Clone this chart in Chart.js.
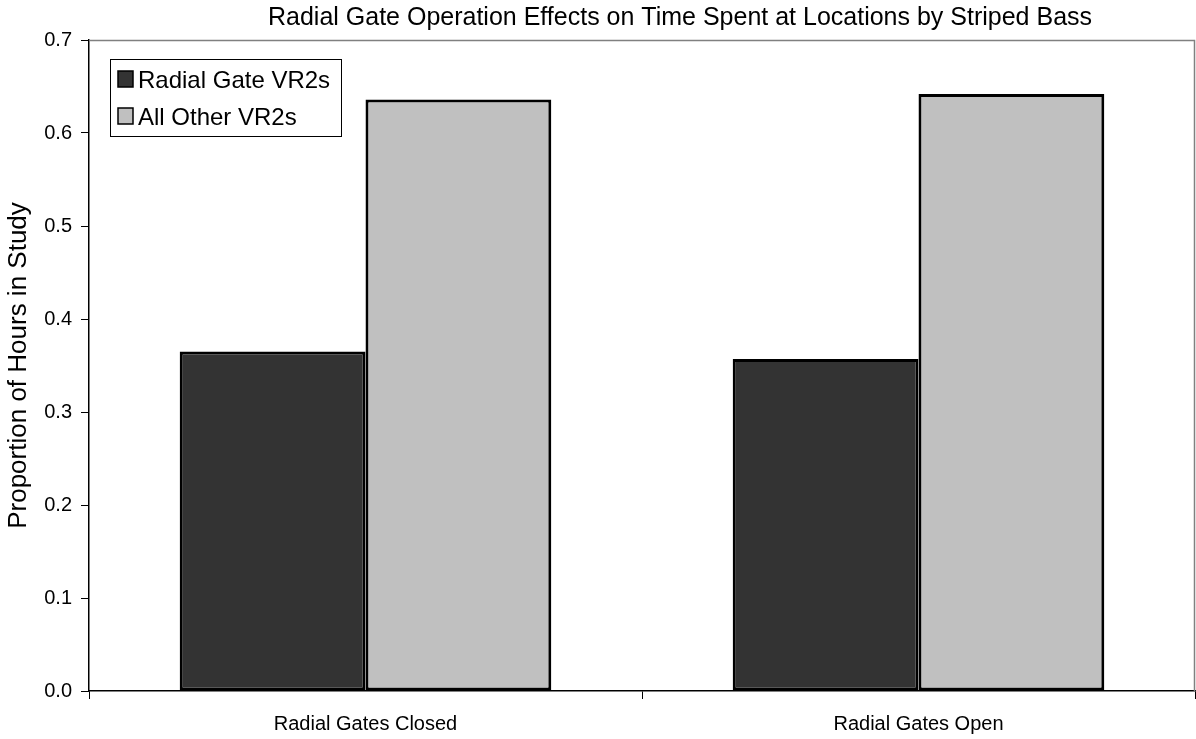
<!DOCTYPE html>
<html>
<head>
<meta charset="utf-8">
<script src="https://cdn.jsdelivr.net/npm/chart.js@4/dist/chart.umd.min.js"></script>
<style>
  html, body { margin: 0; padding: 0; background: #ffffff; }
  #wrap { width: 1196px; height: 739px; }
</style>
</head>
<body>
<div id="wrap"><canvas id="c" width="1196" height="739"></canvas></div>
<script>
const chartTitle = 'Radial Gate Operation Effects on Time Spent at Locations by Striped Bass';
const yAxisTitle = 'Proportion of Hours in Study';
const categories = ['Radial Gates Closed', 'Radial Gates Open'];
const seriesNames = ['Radial Gate VR2s', 'All Other VR2s'];
const radialGateVR2s = [0.365, 0.357];
const allOtherVR2s = [0.636, 0.642];
const yMin = 0.0;
const yMax = 0.7;
const yStep = 0.1;

const FONT = "'Liberation Sans', Arial, sans-serif";

const plotFramePlugin = {
  id: 'plotFrame',
  beforeDatasetsDraw(chart) {
    const a = chart.chartArea, ctx = chart.ctx;
    ctx.save();
    ctx.strokeStyle = '#808080';
    ctx.lineWidth = 1.5;
    ctx.beginPath();
    ctx.moveTo(a.left, a.top + 0.5);
    ctx.lineTo(a.right - 0.5, a.top + 0.5);
    ctx.lineTo(a.right - 0.5, a.bottom);
    ctx.stroke();
    ctx.restore();
  }
};

const overlayPlugin = {
  id: 'overlay',
  afterDraw(chart) {
    const ctx = chart.ctx;
    ctx.save();
    // Title
    ctx.fillStyle = '#000';
    ctx.font = '25px ' + FONT;
    ctx.textAlign = 'center';
    ctx.textBaseline = 'alphabetic';
    ctx.fillText(chartTitle, 680, 25);
    // Legend box
    const bx = 110.5, by = 59.5, bw = 231, bh = 77;
    ctx.fillStyle = '#fff';
    ctx.fillRect(bx, by, bw, bh);
    ctx.strokeStyle = '#000';
    ctx.lineWidth = 1;
    ctx.strokeRect(bx, by, bw, bh);
    ctx.font = '24px ' + FONT;
    ctx.textAlign = 'left';
    chart.data.datasets.forEach((ds, i) => {
      const sy = 71 + i * 37;
      ctx.fillStyle = ds.backgroundColor;
      ctx.fillRect(118, sy, 15, 16);
      ctx.lineWidth = 1.5;
      ctx.strokeStyle = '#000';
      ctx.strokeRect(118, sy, 15, 16);
      ctx.fillStyle = '#000';
      ctx.fillText(ds.label, 138, 88 + i * 37);
    });
    ctx.restore();
  }
};

new Chart(document.getElementById('c'), {
  type: 'bar',
  data: {
    labels: categories,
    datasets: [
      { label: seriesNames[0], data: radialGateVR2s, backgroundColor: '#333333', borderColor: '#000000', borderWidth: 3, borderSkipped: false },
      { label: seriesNames[1], data: allOtherVR2s, backgroundColor: '#C0C0C0', borderColor: '#000000', borderWidth: 3, borderSkipped: false }
    ]
  },
  options: {
    responsive: false,
    animation: false,
    devicePixelRatio: 1,
    layout: { padding: { top: 40, right: 1, left: 0, bottom: 0 } },
    datasets: { bar: { categoryPercentage: 0.672, barPercentage: 1 } },
    plugins: {
      legend: { display: false },
      title: { display: false },
      tooltip: { enabled: false }
    },
    scales: {
      x: {
        afterFit(scale) { scale.height = 48; },
        grid: { display: true, drawOnChartArea: false, tickLength: 8, color: '#000', offset: true },
        border: { color: '#000', width: 1.5 },
        ticks: { color: '#000', font: { family: FONT, size: 20 }, padding: 13, maxRotation: 0 }
      },
      y: {
        min: yMin,
        max: yMax,
        afterFit(scale) { scale.width = 89; },
        grid: { display: true, drawOnChartArea: false, tickLength: 8, color: '#000' },
        border: { color: '#000', width: 1.5 },
        ticks: {
          color: '#000',
          stepSize: yStep,
          padding: 9,
          font: { family: FONT, size: 20 },
          callback: (v) => Number(v).toFixed(1)
        },
        title: {
          display: true,
          text: yAxisTitle,
          color: '#000',
          font: { family: FONT, size: 26 },
          padding: { top: 3, bottom: 0 }
        }
      }
    }
  },
  plugins: [plotFramePlugin, overlayPlugin]
});
</script>
</body>
</html>
